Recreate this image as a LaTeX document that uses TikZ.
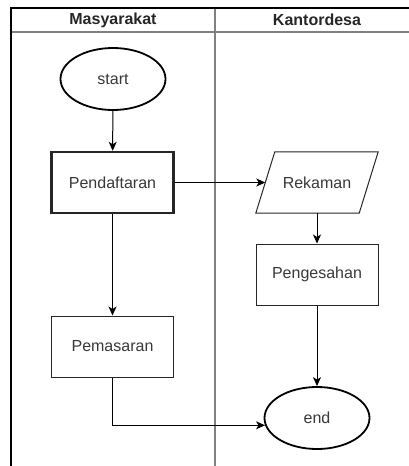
\documentclass[tikz,border=0pt]{standalone}
\usepackage{fontspec}
\setmainfont{Liberation Sans}
\usetikzlibrary{arrows.meta,calc,shapes.geometric}

\tikzset{
  lane/.style={draw=black!50, line width=1.8pt},
  frame/.style={draw=black, line width=1.1pt},
  txt/.style={font=\fontsize{16pt}{19pt}\selectfont, text=black!78},
  head/.style={font=\bfseries\fontsize{16pt}{19pt}\selectfont, text=black!85},
  proc/.style={txt, draw=black!85, line width=1pt, rectangle,
    minimum width=122pt, minimum height=61pt, inner sep=0pt},
  thickproc/.style={proc, line width=2.4pt},
  term/.style={txt, draw=black, line width=1.8pt, ellipse,
    minimum width=105pt, minimum height=62pt, inner sep=0pt},
  iobox/.style={txt, rectangle, minimum width=122pt, minimum height=61pt, inner sep=0pt},
  flow/.style={draw=black, line width=1pt, -{Stealth[length=9pt,width=8pt,inset=2.5pt]}},
}

\begin{document}
\begin{tikzpicture}[x=1pt,y=-1pt]
\useasboundingbox (0,0) rectangle (409,466);

% swimlane frame
\coordinate (tl) at (11,8);
\coordinate (tr) at (409,8);
\coordinate (bl) at (11,466);
\coordinate (hl) at (11,32);
\coordinate (hr) at (409,32);
\coordinate (dt) at (215,8);
\coordinate (db) at (215,466);
\draw[lane] (hl) -- (hr);
\draw[lane] (dt) -- (db);
\draw[frame] (bl) -- (tl) -- (tr);

\node[head] (h1) at (113,20) {Masyarakat};
\node[head] (h2) at (317,20) {Kantordesa};

% flow nodes
\node[term] (start) at (113,79) {start};
\node[thickproc] (pend) at (112.5,182.5) {Pendaftaran};
\node[iobox] (rek) at (317,182.5) {Rekaman};
\draw[draw=black!85, line width=1pt]
  (rek.south west) -- ($(rek.north west)+(19,0)$) -- (rek.north east)
  -- ($(rek.south east)+(-19,0)$) -- cycle;
\coordinate (rekin) at ($(rek.west)+(9.5,0)$);
\node[proc] (peng) at (317,274.5) {Pengesahan};
\node[proc] (pem) at (112.5,346.5) {Pemasaran};
\node[term] (end) at (317,418) {end};

% connectors
\draw[flow] (start) -- (pend);
\draw[flow] (pend) -- (rekin);
\draw[flow] (rek) -- (peng);
\draw[flow] (pend) -- (pem);
\draw[flow] (peng) -- (end);
\draw[flow] (pem.south) |- (end.188);
\end{tikzpicture}
\end{document}
